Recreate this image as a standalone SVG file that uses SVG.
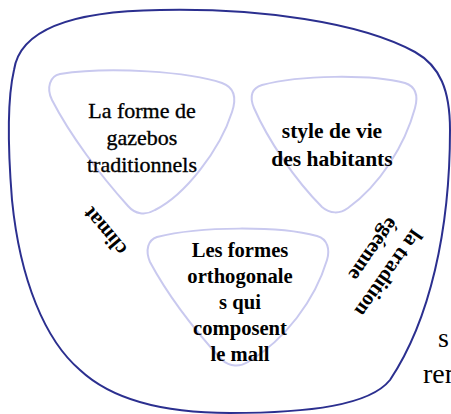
<svg xmlns="http://www.w3.org/2000/svg" width="451" height="414" viewBox="0 0 451 414">
<style>
.outer{fill:none;stroke:#2b2f8f;stroke-width:2}
.tri{fill:none;stroke:#c9c9ef;stroke-width:2}
.t{font-family:"Liberation Serif","Times New Roman",serif;fill:#000;text-anchor:middle}
.r{stroke:#000;stroke-width:0.35}
.b{font-weight:bold}
.lab{font-family:"Liberation Serif","Times New Roman",serif;font-weight:bold;font-size:21px;fill:#000}
.ext{font-family:"Liberation Serif","Times New Roman",serif;font-size:28px;fill:#000}
</style>
<rect width="451" height="414" fill="#fff"/>
<g id="outer">
<path class="outer" d="M 160,10 C 260,8 360,22 415,52 C 440,66 450,90 450,130 C 450,230 430,320 390,380 C 370,405 310,413 230,413 C 160,413 110,398 80,370 C 45,340 20,280 12,200 C 8,150 7,100 14,70 C 20,30 70,11 160,10 Z"/>
</g>
<g id="node-gazebos">
<path class="tri" d="M 60,74 C 110,66 190,72 222,83 C 236,88 236,100 232,112 C 220,150 185,195 155,210 C 145,216 135,214 128,206 C 100,175 70,135 52,100 C 46,88 50,76 60,74 Z"/>
<text class="t r" font-size="22" x="142" y="118">La forme de</text>
<text class="t r" font-size="22" x="142" y="145">gazebos</text>
<text class="t r" font-size="22" x="142" y="172">traditionnels</text>
</g>
<g id="node-style">
<path class="tri" d="M 262,85 C 300,75 370,74 405,83 C 417,87 418,97 415,108 C 405,145 380,185 348,208 C 340,214 330,214 322,207 C 295,180 268,140 254,108 C 249,96 252,88 262,85 Z"/>
<text class="t b" font-size="21.5" x="332" y="138">style de vie</text>
<text class="t b" font-size="21.5" x="332" y="166">des habitants</text>
</g>
<g id="node-formes">
<path class="tri" d="M 157,237 C 200,226 280,226 317,236 C 328,239 330,250 327,260 C 315,300 285,340 248,362 C 240,367 230,367 222,360 C 190,325 165,290 150,262 C 145,250 148,240 157,237 Z"/>
<text class="t b" font-size="20.6" x="240" y="257">Les formes</text>
<text class="t b" font-size="20.6" x="240" y="283">orthogonale</text>
<text class="t b" font-size="20.6" x="240" y="309">s qui</text>
<text class="t b" font-size="20.6" x="240" y="335">composent</text>
<text class="t b" font-size="20.6" x="240" y="361">le mall</text>
</g>
<g id="label-climat">
<text class="lab" text-anchor="middle" transform="translate(110,227) rotate(230)">climat</text>
</g>
<g id="label-tradition" transform="translate(412,228) rotate(125)">
<text class="lab" x="0" y="0">la tradition</text>
<text class="lab" x="4" y="26">égéenne</text>
</g>
<g id="cut-text">
<text class="ext" x="438" y="347">s</text>
<text class="ext" x="423" y="383">ren</text>
</g>
</svg>
